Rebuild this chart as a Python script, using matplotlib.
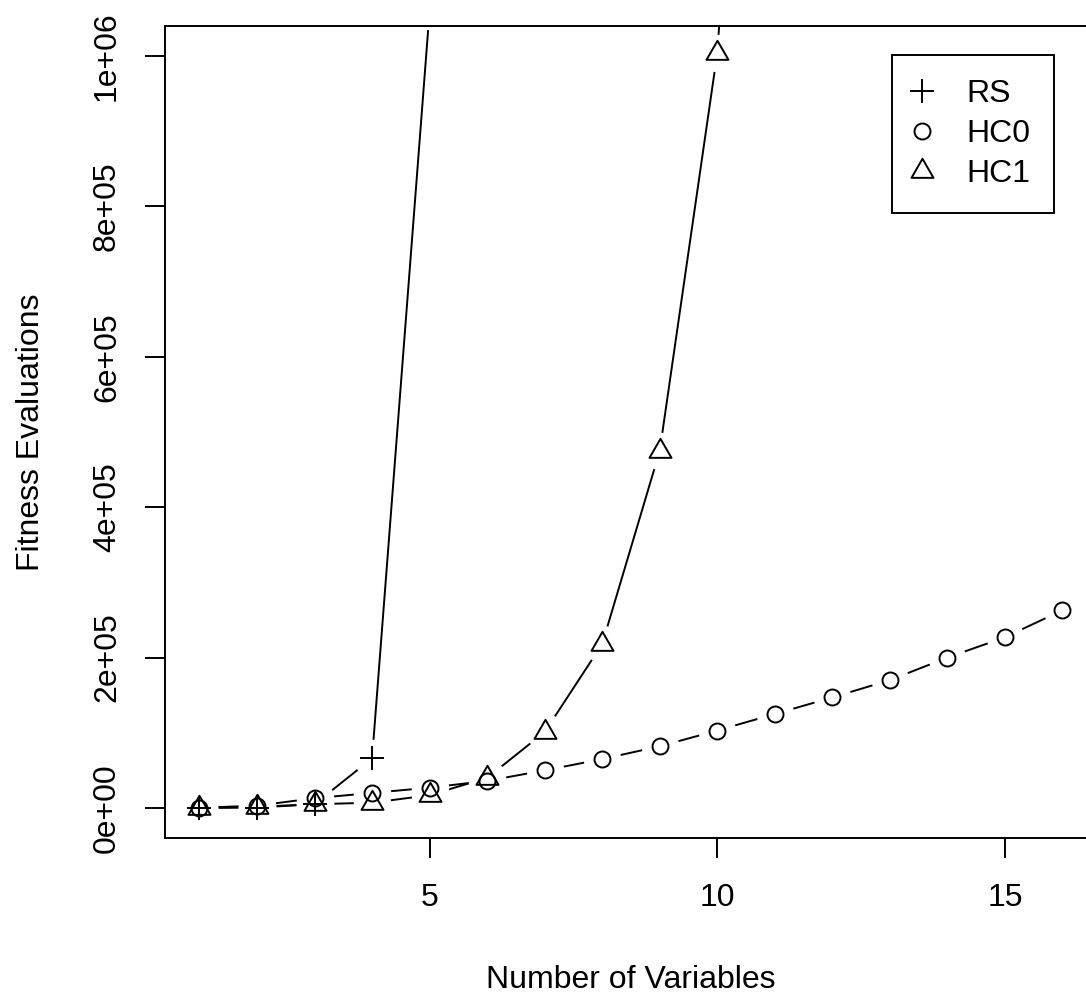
# -*- coding: utf-8 -*-

import matplotlib
matplotlib.use('Agg')
import matplotlib.pyplot as plt
from matplotlib.lines import Line2D
from matplotlib.path import Path

plt.rcParams['font.family'] = ['Liberation Sans', 'DejaVu Sans']

# number of variables
n_rs = [1, 2, 3, 4, 5]
n_hc0 = [1, 2, 3, 4, 5, 6, 7, 8, 9, 10, 11, 12, 13, 14, 15, 16]
n_hc1 = [1, 2, 3, 4, 5, 6, 7, 8, 9, 10, 11]

# fitness evaluations
evals_rs = [100, 500, 5000, 66000, 1060000]
evals_hc0 = [300, 3000, 13000, 20000, 27000, 36000, 50000, 65000, 82000,
             103000, 125000, 147000, 170000, 200000, 227000, 263000]
evals_hc1 = [200, 1500, 5000, 7000, 17000, 40000, 101000, 218000, 475000,
             1004000, 2100000]

names = ['RS', 'HC0', 'HC1']

x_ticks = [5, 10, 15]
y_ticks = [0, 200000, 400000, 600000, 800000, 1000000]
y_ticklabels = ['0e+00', '2e+05', '4e+05', '6e+05', '8e+05', '1e+06']

# R style open triangle (pch=2)
tri = Path([(-1, -0.577), (1, -0.577), (0, 1.155), (-1, -0.577)],
           [Path.MOVETO, Path.LINETO, Path.LINETO, Path.CLOSEPOLY])
markers = ['+', 'o', tri]
msizes = [16.6, 11.5, 18.3]

FS = 23
LW = 1.4


def main():
    fig = plt.figure(figsize=(10.86, 9.94), dpi=100)
    ax = fig.add_axes([0.1519, 0.1569, 0.8582, 0.8169])

    series = [(n_rs, evals_rs), (n_hc0, evals_hc0), (n_hc1, evals_hc1)]

    # type="b": lines, white gaps round the points, then the points
    for xs, ys in series:
        ax.plot(xs, ys, color='black', linewidth=LW, zorder=2)
    for xs, ys in series:
        ax.plot(xs, ys, linestyle='none', marker='o', markersize=27,
                markerfacecolor='white', markeredgecolor='none', zorder=2.1)
    for (xs, ys), m, s in zip(series, markers, msizes):
        ax.plot(xs, ys, linestyle='none', marker=m, markersize=s,
                markerfacecolor='none', markeredgecolor='black',
                markeredgewidth=LW, zorder=2.2)

    ax.set_xlim(0.4, 16.6)
    ax.set_ylim(-40000, 1040000)
    ax.set_xticks(x_ticks)
    ax.set_xticklabels([str(t) for t in x_ticks])
    ax.set_yticks(y_ticks)
    ax.set_yticklabels(y_ticklabels, rotation=90, va='center')

    ax.tick_params(axis='both', direction='out', length=14.5, width=LW,
                   labelsize=FS, colors='black')
    ax.tick_params(axis='x', pad=18)
    ax.tick_params(axis='y', pad=16.5)
    for sp in ax.spines.values():
        sp.set_linewidth(LW)
        sp.set_color('black')

    ax.set_xlabel('Number of Variables', fontsize=FS, labelpad=37)
    ax.set_ylabel('Fitness Evaluations', fontsize=FS, labelpad=33)

    handles = [Line2D([], [], linestyle='none', marker=m, markersize=s,
                      markerfacecolor='none', markeredgecolor='black',
                      markeredgewidth=LW)
               for m, s in zip(markers, msizes)]
    leg = ax.legend(handles, names, loc='upper left',
                    bbox_to_anchor=(892 / 1086, 1 - 55 / 994),
                    bbox_transform=fig.transFigure, borderaxespad=0,
                    fontsize=FS, borderpad=0.75, labelspacing=0.31,
                    handlelength=0.375, handletextpad=1.19,
                    fancybox=False, framealpha=1, numpoints=1)
    leg.get_frame().set_linewidth(LW)
    leg.get_frame().set_edgecolor('black')

    plt.savefig('out.png', dpi=100)


if __name__ == "__main__":
    main()
